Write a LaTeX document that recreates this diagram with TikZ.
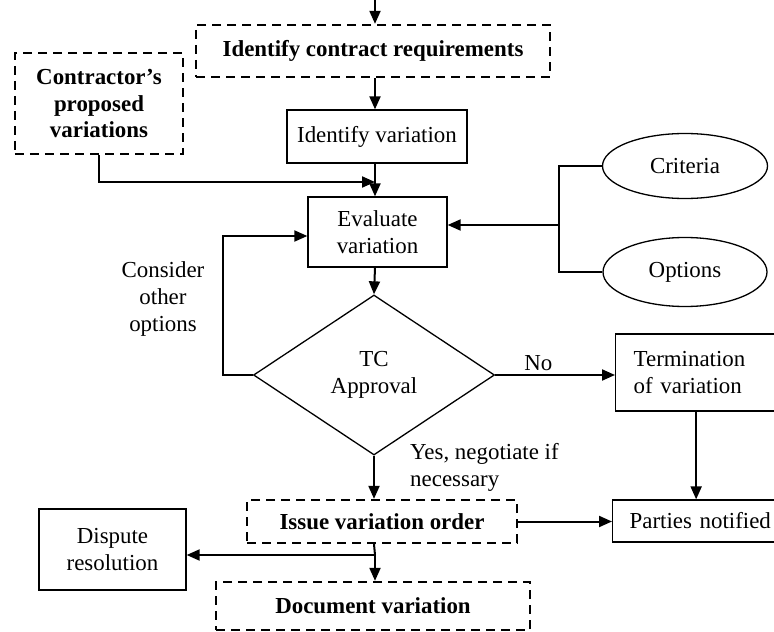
\documentclass[tikz,border=0pt]{standalone}
\usepackage{fontspec}
\setmainfont{Liberation Serif}
\usetikzlibrary{shapes.geometric,arrows.meta}
\tikzset{
  box/.style={draw,line width=1.3bp,inner sep=0pt,align=center},
  dbox/.style={box,line width=2.3bp,dash pattern=on 9bp off 6bp,font=\fontsize{23}{27}\selectfont\bfseries},
  oval/.style={draw,ellipse,line width=1.3bp,inner sep=0pt},
  line/.style={line width=2bp},
  flow/.style={line,-{Triangle[length=13bp,width=11bp]}},
}
\begin{document}
\begin{tikzpicture}[x=1bp,y=-1bp,every node/.style={font=\fontsize{23}{27}\selectfont}]
\useasboundingbox (0,0) rectangle (774,632);
\clip (0,0) rectangle (774,632);
\node[dbox,minimum width=354bp,minimum height=52bp] (req) at (373,51) {Identify contract requirements};
\node[dbox,minimum width=168bp,minimum height=101bp] (con) at (99,103.5) {Contractor's\\proposed\\variations};
\node[box,minimum width=180bp,minimum height=53bp] (idv) at (377,136.5) {Identify variation};
\node[box,minimum width=139bp,minimum height=70bp] (eva) at (377.5,232) {Evaluate\\variation};
\node[oval,minimum width=165bp,minimum height=65bp] (crit) at (685,166) {Criteria};
\node[oval,minimum width=164bp,minimum height=69bp] (opt) at (685,272) {Options};
\node[draw,diamond,line width=1.3bp,inner sep=0pt,align=center,minimum width=241bp,minimum height=160bp] (tca) at (374,375) {TC\\Approval};
\node[align=center,inner sep=0pt] (cons) at (163,299) {Consider\\other\\options};
\node[box,anchor=west,text width=155bp,inner xsep=18bp,align=left,minimum height=77bp] (ter) at (615,372.5) {Termination\\of variation};
\node[align=left,anchor=north west,inner sep=0pt] (yes) at (410,443) {Yes, negotiate if\\necessary};
\node[dbox,minimum width=270bp,minimum height=43bp] (iss) at (382,521.5) {Issue variation order};
\node[box,anchor=west,text width=160bp,inner xsep=17bp,align=left,minimum height=42bp] (par) at (612,521) {Parties notified};
\node[box,minimum width=147bp,minimum height=81bp] (dis) at (112.5,549.5) {Dispute\\resolution};
\node[dbox,minimum width=314bp,minimum height=48bp] (doc) at (373,606) {Document variation};
\coordinate (top) at (375,0);
\coordinate (mrg) at (375,182);
\coordinate (brk) at (559,225);
\coordinate (back) at (223,236);
\coordinate (split) at (375,555);
\draw[flow] (top) -- (top |- req.north);
\draw[flow] (top |- req.south) -- (top |- idv.north);
\draw[flow] (top |- idv.south) -- (top |- eva.north);
\draw[flow] (con.south) |- (mrg);
\draw[flow] (top |- eva.south) -- (tca.north);
\draw[line width=1.3bp] (crit.west) -| (brk) |- (opt.west);
\draw[flow] (brk) -- (brk -| eva.east);
\draw[flow] (tca.west) -| (back) -- (back -| eva.west);
\draw[flow] (tca.east) -- node[pos=0.36,above] {No} (tca.east -| ter.west);
\draw[flow] ([xshift=-15bp]ter.south) -- ([xshift=-15bp]ter.south |- par.north);
\draw[flow] (tca.south) -- (tca.south |- iss.north);
\draw[flow] (iss.east) -- (iss.east -| par.west);
\draw[line] (tca.south |- iss.south) -- (split);
\draw[flow] (split) -- (split -| dis.east);
\draw[flow] (split) -- (split |- doc.north);
\end{tikzpicture}
\end{document}
